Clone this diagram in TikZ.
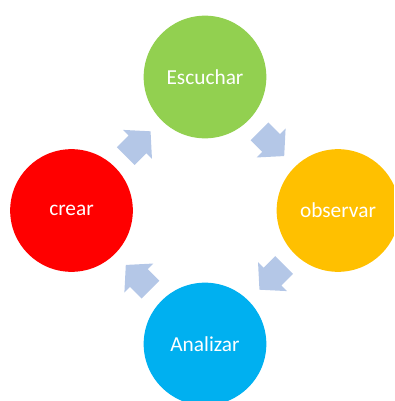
\documentclass[tikz,border=0pt]{standalone}
\usepackage{fontspec}
\setmainfont{Carlito}
\usepackage{tikz}
\definecolor{escgreen}{HTML}{92D050}
\definecolor{obsorange}{HTML}{FFC000}
\definecolor{anablue}{HTML}{00B0F0}
\definecolor{crered}{HTML}{FF0000}
\definecolor{arrowblue}{HTML}{B4C7E7}

\begin{document}
\begin{tikzpicture}[x=0.75pt,y=0.75pt]
\tikzset{stage/.style={circle,minimum size=92pt,inner sep=0pt,text=white,font=\fontsize{16}{19}\selectfont},
  cyclearrow/.style={fill=arrowblue}}

\def\dist{133.5}
\def\arr{94.5}

\useasboundingbox (-205,-190.5) rectangle (189,210.5);
\clip (-205,-190.5) rectangle (189,210.5);

\node[stage,fill=escgreen] (escuchar) at (0,\dist) {Escuchar};
\node[stage,fill=obsorange] (observar) at (133,0) {observar};
\node[stage,fill=anablue] (analizar) at (0,-\dist) {Analizar};
\node[stage,fill=crered] (crear) at (-\dist,0) {crear};

\foreach \a in {45,-45,-135,135}
  \fill[cyclearrow,shift={(\a:\arr)},rotate=\a-90] (-17.5,12.5) -- (-1,12.5) -- (-1,20.5) -- (17.5,0) -- (-1,-20.5) -- (-1,-12.5) -- (-17.5,-12.5) -- cycle;
\end{tikzpicture}
\end{document}
